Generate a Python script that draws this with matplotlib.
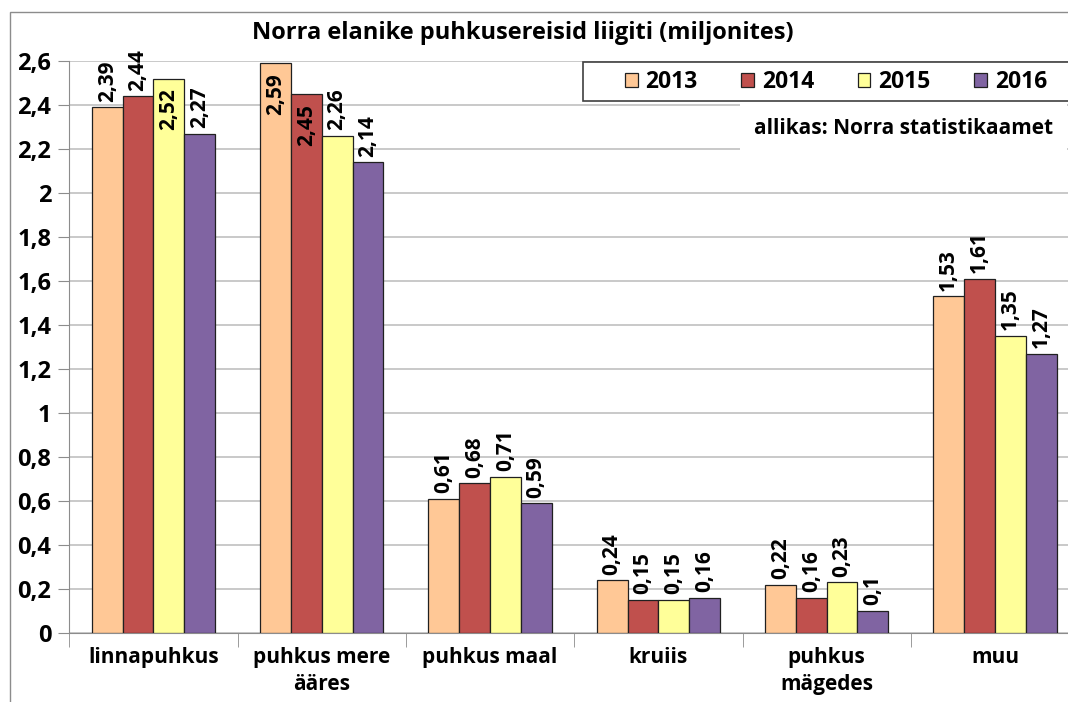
import matplotlib.pyplot as plt
import numpy as np
from matplotlib.patches import Rectangle

categories = ["linnapuhkus", "puhkus mere\nääres", "puhkus maal", "kruiis", "puhkus\nmägedes", "muu"]
years = ["2013", "2014", "2015", "2016"]
v2013 = [2.39, 2.59, 0.61, 0.24, 0.22, 1.53]
v2014 = [2.44, 2.45, 0.68, 0.15, 0.16, 1.61]
v2015 = [2.52, 2.26, 0.71, 0.15, 0.23, 1.35]
v2016 = [2.27, 2.14, 0.59, 0.16, 0.10, 1.27]
series = [v2013, v2014, v2015, v2016]
colors = ["#FFC896", "#C0504D", "#FFFF99", "#8064A2"]
# labels Excel pushed inside the bar (series index, category index)
inside = {(2, 0), (0, 1), (1, 1)}

plt.rcParams['font.family'] = ['Open Sans', 'DejaVu Sans']
plt.rcParams['font.weight'] = 'bold'
FS = 15

W, H = 1068, 702
fig = plt.figure(figsize=(W/100, H/100), dpi=100)
ax = fig.add_axes([69.3/W, 1-633/H, 6*168.3/W, 572/H])

# outer chart border
fig.patches.append(Rectangle((10/W, -0.1), 1.2, 1-12/H+0.1, transform=fig.transFigure,
                             fill=False, edgecolor="#8c8c8c", lw=1))

x = np.arange(len(categories))
w = 0.183
for i, (vals, c) in enumerate(zip(series, colors)):
    xs = x + (i - 1.5) * w
    ax.bar(xs, vals, w, color=c, edgecolor="#202020", lw=0.9, label=years[i], zorder=3)
    for j, (bx, v) in enumerate(zip(xs, vals)):
        txt = ("%g" % v).replace(".", ",")
        if (i, j) in inside:
            ax.annotate(txt, (bx, v), xytext=(0, -7), textcoords="offset points",
                        rotation=90, ha="center", va="top", fontsize=FS, fontweight="bold", zorder=5)
        else:
            ax.annotate(txt, (bx, v), xytext=(0, 4), textcoords="offset points",
                        rotation=90, ha="center", va="bottom", fontsize=FS, fontweight="bold",
                        zorder=5, annotation_clip=False)

ax.set_xlim(-0.5, len(categories) - 0.5)
ax.set_ylim(0, 2.6)
yt = np.arange(0, 2.61, 0.2)
ax.set_yticks(yt)
ax.set_yticklabels([("%g" % round(t, 1)).replace(".", ",") for t in yt], fontsize=17, fontweight="bold")
ax.yaxis.grid(True, color="#c0c0c0", lw=1.2, zorder=0)
ax.set_xticks(x)
ax.set_xticklabels(categories, fontsize=FS, fontweight="bold", linespacing=1.4)
ax.set_xticks(np.arange(-0.5, len(categories)), minor=True)
ax.tick_params(axis="x", which="major", length=0, pad=10)
ax.tick_params(axis="x", which="minor", length=10, color="#8c8c8c")
ax.tick_params(axis="y", length=8, color="#8c8c8c", pad=5)
for s in ["top", "right"]:
    ax.spines[s].set_visible(False)
ax.spines["left"].set_color("#8c8c8c")
ax.spines["bottom"].set_color("#8c8c8c")

fig.text(523/W, 1-33/H, "Norra elanike puhkusereisid liigiti (miljonites)",
         ha="center", va="center", fontsize=17, fontweight="bold")

# legend frame runs off the right edge like in the original
fig.patches.append(Rectangle((583/W, 1-101/H), 0.6, 39/H, transform=fig.transFigure,
                             facecolor="white", edgecolor="#404040", lw=1.2, zorder=4))
leg = fig.legend(loc="center left", bbox_to_anchor=(625/W, 1-82/H), ncol=4, fontsize=16.5,
                 frameon=False, handlelength=0.55, handleheight=0.55, handletextpad=0.35,
                 columnspacing=1.9, borderaxespad=0, borderpad=0)
leg.set_zorder(5)
for t in leg.get_texts():
    t.set_fontweight("bold")

fig.text(1053/W, 1-128/H, "allikas: Norra statistikaamet", ha="right", va="center",
         fontsize=15, fontweight="bold",
         bbox=dict(facecolor="white", edgecolor="none", pad=10))

fig.savefig("out.png", dpi=100)
